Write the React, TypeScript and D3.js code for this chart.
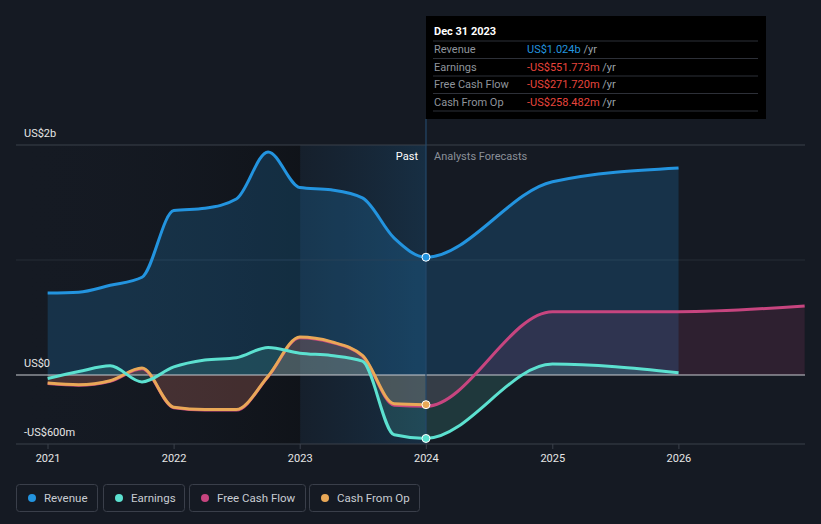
import React from 'react';
import * as d3 from 'd3';

// quarterly history, then annual analyst forecasts (values in US$ billions)
const pastDates = [
    '2020-12-31', '2021-03-31', '2021-06-30', '2021-09-30', '2021-12-31', '2022-03-31', '2022-06-30',
    '2022-09-30', '2022-12-31', '2023-03-31', '2023-06-30', '2023-09-30', '2023-12-31',
];
const revenuePast = [0.713, 0.72, 0.78, 0.85, 1.43, 1.45, 1.53, 1.94, 1.63, 1.61, 1.54, 1.19, 1.024];
const earningsPast = [-0.03, 0.03, 0.08, -0.06, 0.07, 0.13, 0.15, 0.24, 0.19, 0.17, 0.12, -0.52, -0.552];
const cfoPast = [-0.07, -0.085, -0.05, 0.06, -0.28, -0.30, -0.30, -0.01, 0.33, 0.29, 0.17, -0.25, -0.258];
const fcfPast = [-0.075, -0.09, -0.055, 0.055, -0.285, -0.305, -0.305, -0.015, 0.325, 0.285, 0.165, -0.262, -0.272];

const forecastDates = ['2024-12-31', '2025-12-31', '2026-12-31'];
const revenueForecast = [1.68, 1.80];
const earningsForecast = [0.095, 0.02];
const fcfForecast = [0.55, 0.55, 0.60];

const yearTicks = ['2021', '2022', '2023', '2024', '2025', '2026'];

const tooltipRows = [
    { label: 'Revenue', value: 'US$1.024b', color: '#2394df' },
    { label: 'Earnings', value: '-US$551.773m', color: '#e8453c' },
    { label: 'Free Cash Flow', value: '-US$271.720m', color: '#e8453c' },
    { label: 'Cash From Op', value: '-US$258.482m', color: '#e8453c' },
];

const legendItems = [
    { label: 'Revenue', color: '#2394df' },
    { label: 'Earnings', color: '#5ce1d0' },
    { label: 'Free Cash Flow', color: '#c7457f' },
    { label: 'Cash From Op', color: '#e9a857' },
];

type Pt = { date: Date; value: number };

const parse = d3.timeParse('%Y-%m-%d');
const toPts = (dates: string[], vals: number[]): Pt[] => vals.map((v, i) => ({ date: parse(dates[i])!, value: v }));

export default function App() {
    const W = 821;
    const H = 524;
    const font = 'Roboto, "Noto Sans", sans-serif';

    const x = d3.scaleTime()
        .domain([new Date(2021, 0, 1), new Date(2027, 0, 1)])
        .range([48, 805]);
    const y = d3.scaleLinear().domain([-0.6, 2]).range([444, 145]);

    const lastPast = pastDates[pastDates.length - 1];
    const revenue = toPts(pastDates, revenuePast).concat(toPts(forecastDates, revenueForecast));
    const earnings = toPts(pastDates, earningsPast).concat(toPts(forecastDates, earningsForecast));
    const cfo = toPts(pastDates, cfoPast);
    const fcf = toPts(pastDates, fcfPast).concat(toPts(forecastDates, fcfForecast));

    const line = d3.line<Pt>().x(d => x(d.date)).y(d => y(d.value)).curve(d3.curveMonotoneX);
    const area = d3.area<Pt>().x(d => x(d.date)).y0(y(0)).y1(d => y(d.value)).curve(d3.curveMonotoneX);

    const xNow = x(parse(lastPast)!);
    const x2023 = x(new Date(2023, 0, 1));
    const series = [
        { data: revenue, color: '#2394df', fill: 'rgba(35,148,223,0.2)' },
        { data: fcf, color: '#c7457f', fill: 'rgba(199,69,127,0.14)' },
        { data: cfo, color: '#e9a857', fill: 'rgba(233,168,87,0.13)' },
        { data: earnings, color: '#5ce1d0', fill: 'rgba(92,225,208,0.15)' },
    ];

    return (
        <svg width={W} height={H} style={{ position: 'absolute', left: 0, top: 0, display: 'block' }} fontFamily={font}>
            <defs>
                <linearGradient id="leftShade" x1="0" x2="1" y1="0" y2="0">
                    <stop offset="0%" stopColor="#151a23" stopOpacity={0} />
                    <stop offset="100%" stopColor="#0e1116" stopOpacity={0.75} />
                </linearGradient>
                <linearGradient id="pastBand" x1="0" x2="1" y1="0" y2="0">
                    <stop offset="0%" stopColor="#1b4a70" stopOpacity={0.12} />
                    <stop offset="100%" stopColor="#1b5a88" stopOpacity={0.32} />
                </linearGradient>
            </defs>
            <rect width={W} height={H} fill="#151a23" />
            <rect x={16} y={y(2)} width={x2023 - 16} height={y(-0.6) - y(2)} fill="url(#leftShade)" />
            <rect x={x2023} y={y(2)} width={xNow - x2023} height={y(-0.6) - y(2)} fill="url(#pastBand)" />

            {/* grid */}
            <line x1={16} x2={805} y1={y(1)} y2={y(1)} stroke="#262c37" />
            <line x1={16} x2={805} y1={y(2)} y2={y(2)} stroke="#3b404b" />
            <line x1={16} x2={805} y1={y(-0.6)} y2={y(-0.6)} stroke="#3b404b" />
            {yearTicks.map(t => {
                const xx = x(new Date(+t, 0, 1));
                return (
                    <g key={t}>
                        <line x1={xx} x2={xx} y1={y(-0.6)} y2={y(-0.6) + 5} stroke="#3b404b" />
                        <text x={xx} y={462} fill="#e6e6e6" fontSize={11} textAnchor="middle">{t}</text>
                    </g>
                );
            })}

            {series.map((s, i) => <path key={'a' + i} d={area(s.data)!} fill={s.fill} />)}
            <line x1={16} x2={805} y1={y(0)} y2={y(0)} stroke="#c9ccd1" strokeWidth={1.2} />
            <line x1={xNow} x2={xNow} y1={119} y2={y(-0.6)} stroke="#24476a" strokeWidth={1.2} />
            {series.map((s, i) => <path key={'l' + i} d={line(s.data)!} fill="none" stroke={s.color} strokeWidth={3} />)}

            {[
                { v: revenuePast[12], c: '#2394df' },
                { v: cfoPast[12], c: '#e9a857' },
                { v: earningsPast[12], c: '#5ce1d0' },
            ].map((p, i) => (
                <circle key={i} cx={xNow} cy={y(p.v)} r={4} fill={p.c} stroke="#ffffff" strokeWidth={1} />
            ))}

            <text x={24} y={137} fill="#e6e6e6" fontSize={11}>US$2b</text>
            <text x={24} y={367} fill="#e6e6e6" fontSize={11}>US$0</text>
            <text x={24} y={436} fill="#e6e6e6" fontSize={11}>-US$600m</text>

            <text x={418} y={160} fill="#ffffff" fontSize={11} textAnchor="end">Past</text>
            <text x={434} y={160} fill="#8b9099" fontSize={11}>Analysts Forecasts</text>

            {/* tooltip */}
            <rect x={426} y={16} width={340} height={103} fill="#000000" />
            <text x={434} y={35} fill="#ffffff" fontSize={11} fontWeight="bold">Dec 31 2023</text>
            {tooltipRows.map((r, i) => {
                const ty = 53 + i * 17.5;
                return (
                    <g key={r.label}>
                        <line x1={433} x2={758} y1={ty - 12} y2={ty - 12} stroke="#2d3038" />
                        <text x={434} y={ty} fill="#8f949c" fontSize={11}>{r.label}</text>
                        <text x={527} y={ty} fontSize={11}>
                            <tspan fill={r.color}>{r.value}</tspan>
                            <tspan fill="#9aa0a8"> /yr</tspan>
                        </text>
                    </g>
                );
            })}
            <line x1={433} x2={758} y1={111} y2={111} stroke="#2d3038" />

            {/* legend */}
            {(() => {
                const boxes = [[16, 81], [103, 81], [189, 116], [309, 110]];
                return legendItems.map((it, i) => (
                    <g key={it.label}>
                        <rect x={boxes[i][0] + 0.5} y={484.5} width={boxes[i][1]} height={27} rx={3} fill="none" stroke="#3a3f4a" />
                        <circle cx={boxes[i][0] + 16} cy={498} r={4} fill={it.color} />
                        <text x={boxes[i][0] + 28} y={502} fill="#c8ccd2" fontSize={11.5}>{it.label}</text>
                    </g>
                ));
            })()}
        </svg>
    );
}
